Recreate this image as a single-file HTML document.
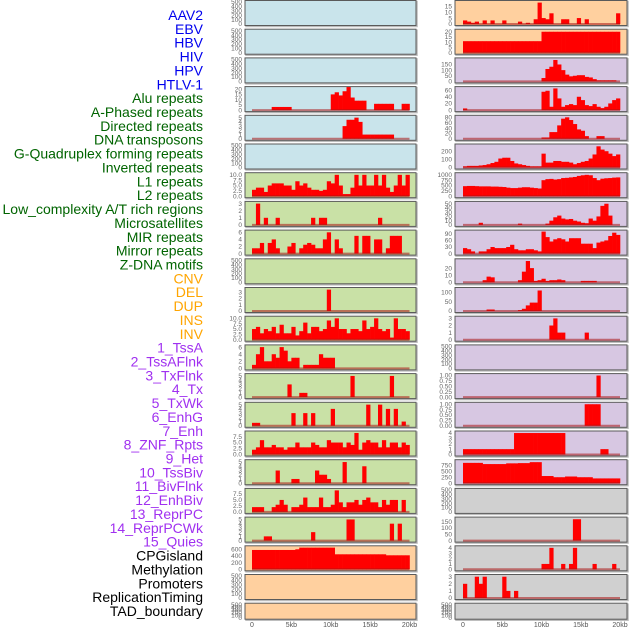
<!DOCTYPE html>
<html><head><meta charset="utf-8"><style>
html,body{margin:0;padding:0;background:#fff;}
svg{display:block;font-family:"Liberation Sans",sans-serif;}
</style></head><body>
<svg id="chart" width="630" height="630" viewBox="0 0 630 630"></svg>
<script>
const labels=["AAV2","EBV","HBV","HIV","HPV","HTLV-1","Alu repeats","A-Phased repeats","Directed repeats","DNA transposons","G-Quadruplex forming repeats","Inverted repeats","L1 repeats","L2 repeats","Low_complexity A/T rich regions","Microsatellites","MIR repeats","Mirror repeats","Z-DNA motifs","CNV","DEL","DUP","INS","INV","1_TssA","2_TssAFlnk","3_TxFlnk","4_Tx","5_TxWk","6_EnhG","7_Enh","8_ZNF_Rpts","9_Het","10_TssBiv","11_BivFlnk","12_EnhBiv","13_ReprPC","14_ReprPCWk","15_Quies","CPGisland","Methylation","Promoters","ReplicationTiming","TAD_boundary"];
const labelGroups=[6,13,5,15,5];
const labelColors=["#0000ee","#006400","#ffa500","#a030f0","#000000"];
const xTickLabels=["0","5kb","10kb","15kb","20kb"];
const xTickKb=[0,5,10,15,20];
const E="0,100,200,300,400,500";
const leftBg=["b","b","b","b","b","b","g","g","g","g","g","g","g","g","g","g","g","g","g","o","o","o"];
const rightBg=["o","o","p","p","p","p","p","p","p","p","p","p","p","p","p","p","p","y","y","y","y","y"];
const leftTicks=[E,E,E,"0,5,10,15,20","0,1,2,3,4,5",E,"0.0,2.5,5.0,7.5,10.0","0,1,2,3","0,2,4,6",E,"0,1,2,3","0.0,2.5,5.0,7.5,10.0","0,2,4,6","0,1,2,3,4,5","0,1,2,3,4,5","0.0,2.5,5.0,7.5","0,1,2,3,4,5","0.0,2.5,5.0,7.5","0,1,2,3,4,5","0,200,400,600",E,E];
const leftMax=[500,500,500,21,5.2,500,10.3,3.1,6.2,500,3.5,10.3,6.2,5.2,5.2,9.2,5.2,9.2,5.2,660,500,500];
const leftVals=[null,null,null,
"0,0,0,0,0,3,3,3,3,3,0,0,0,0,0,0,0,0,0,0,15,17,14,18,22,12,9,9,9,0,0,6,6,6,6,6,0,0,6,6",
"0,0,0,0,0,0,0,0,0,0,0,0,0,0,0,0,0,0,0,0,0,0,0,3,4.5,4.5,5,4,1,1,1,1,1,1,1,1,0,0,0,0",
null,
"3,4,4,2,5,6,6,6,5,5,3,7,5,6,4,3,3,2.5,3,7,6,10,5,1,1,4,10,5,10,5,5,10,5,10,4,2,5,10,5,10",
"0,3,0,1,0,0,1,0,0,0,0,0,0,0,0,1,0,1,1,0,0,0,0,0,0,0,0,0,0,0,0,0,1,0,0,0,0,0,0,0",
"1.5,1.5,3,0,3,4,1.5,0,0,2,3,0,1.5,2.5,3,2.5,1.5,1.5,4,6,0,4,1.5,0,0,0,5,0,5,5,0,4,4,0,1.5,5,5,5,0,0",
null,
"0,0,0,0,0,0,0,0,0,0,0,0,0,0,0,0,0,0,0,3.4,0,0,0,0,0,0,0,0,0,0,0,0,0,0,0,0,0,0,0,0",
"5,6,3,5,4,6,3,7,3,3,6,2,4,8,3,6,6,4,5,9,6,10,5,5,3,5,5,4,9,5,6,10,5,4,5,1,10,5,5,4",
"1,4,6,2,2,4,3,6,5,2,3,3,0,1,1,1,1,4,3,3,3,0,0,0,0,0,0,0,0,0,0,0,0,0,0,0,0,0,0,0",
"0,0,0,0,0,0,0,0,0,3,0,0,1,1,0,0,0,0,0,0,0,0,0,0,0,5,0,0,0,0,0,0,0,0,0,5,0,0,0,0",
"0.7,0.7,0,0,0,0,0,0,0,0,3,0,0,3,0,3,0,0,0,0,4,0,0,0,0,0,0,0,0,5,0,0,5,0,4,0,4,0,1,0",
"2,3,6,3,3,4,3,3,2,3,3,5,3,3,3,5,4,3,3,6,5,5,5,3,5,4,9,2,5,6,5,5,3,6,3,5,5,3,5,4",
"0,0,0,0,0,0,3,0,0,0,1,1,0,0,0,0,3,2,2,1,0,0,0,5,0,0,0,0,4,0,0,0,0,0,0,0,0,0,0,0",
"2,2,2,0,0,2,3,5,3,0,2,2,3,6,2,2,2,6,2,2,3,9,4,2,4,4,5,3,5,6,4,4,2,5,3,5,5,0,5,0",
"0,0,0,1,1,0,0,0,0,0,0,0,0,0,0,2,0,0,0,0,0,0,0,0,5,5,0,0,0,0,0,0,0,0,0,4,0,4,0,0",
"580,580,580,580,580,580,580,580,580,580,580,600,650,650,650,650,650,650,650,650,650,450,450,450,450,450,450,450,450,450,450,450,450,450,420,420,420,420,420,420",
null,null];
const rightTicks=["0,5,10,15","0,5,10,15,20","0,50,100,150","0,20,40,60","0,20,40,60,80","0,100,200","0,250,500,750,1000","0,10,20,30,40,50","0,30,60,90","0,10,20","0,50,100","0,1,2,3",E,"0.00,0.25,0.50,0.75,1.00","0.00,0.25,0.50,0.75,1.00","0,1,2,3,4","0,250,500,750",E,"0,50,100,150","0,1,2,3,4","0,1,2,3",E];
const rightMax=[18.5,21,195,66,82,270,1030,52,100,31,118,3.1,500,1.02,1.02,4.1,920,500,175,4.1,3.1,500];
const rightVals=[
"3,2,1,2,0,3,0,3,0,0,3,0,0,0,2,0,1,0,4,18,5,4,9,0,0,4,4,0,0,5,0,4,0,0,0,0,0,0,0,9",
"11,11,11,11,11,11,11,11,11,11,11,11,11,11,11,11,11,11,11,11,20,20,20,20,20,20,20,20,20,20,20,20,20,20,20,20,20,20,20,20",
"0,0,0,0,0,0,0,0,0,0,0,0,0,0,0,0,0,0,0,0,30,110,130,190,150,100,60,45,50,55,55,40,35,20,10,10,10,10,10,0",
"5,0,0,0,0,0,0,0,0,0,0,0,0,0,0,0,0,0,0,0,55,58,10,65,35,10,15,18,15,40,30,15,12,18,10,6,10,20,30,35",
"0,0,0,0,0,0,0,0,0,0,0,0,0,0,0,0,0,0,0,0,5,5,25,25,50,75,80,70,55,35,30,10,0,0,10,10,0,0,0,0",
"15,20,20,20,25,30,40,55,70,110,120,120,80,50,40,30,20,15,15,15,170,60,60,80,80,70,70,60,40,55,70,80,110,160,260,220,200,170,140,160",
"470,480,480,470,460,460,460,450,450,440,430,400,380,380,400,420,420,400,380,360,750,800,810,780,800,850,860,880,900,950,980,1000,980,850,750,820,840,850,870,880",
"0,0,0,0,5,0,0,0,0,0,0,0,0,0,3,0,0,0,0,0,0,3,10,18,22,15,13,14,10,8,5,4,15,10,20,45,50,22,0,0",
"25,20,10,0,10,10,20,30,25,25,25,30,40,20,15,15,20,20,15,10,100,75,55,65,70,65,55,70,70,70,45,45,45,25,50,55,60,80,95,85",
"0,0,0,0,0,3,8,7,0,0,0,0,0,0,3,15,30,20,2,3,5,2,3,3,4,3,0,0,0,0,2,2,2,2,0,0,0,0,0,0",
"0,0,0,0,0,0,8,8,0,0,0,0,0,0,5,12,30,45,45,110,0,0,0,0,0,0,0,0,0,0,0,0,0,0,0,0,0,0,0,0",
"0,0,0,0,0,0,0,0,0,0,0,0,0,0,0,0,0,0,0,0,0,0,2,3,1,1,0,0,0,0,0,1,0,0,0,0,0,0,0,0",
null,
"0,0,0,0,0,0,0,0,0,0,0,0,0,0,0,0,0,0,0,0,0,0,0,0,0,0,0,0,0,0,0,0,0,0,1,0,0,0,0,0",
"0,0,0,0,0,0,0,0,0,0,0,0,0,0,0,0,0,0,0,0,0,0,0,0,0,0,0,0,0,0,0,1,1,1,1,0,0,0,0,0",
"1,1,1,1,1,1,1,1,1,1,1,1,1,4,4,4,4,4,4,4,4,4,4,4,4,4,0,0,0,0,0,0,0,0,0,1,1,0,0,0",
"850,850,850,850,850,800,800,800,800,800,800,830,830,830,840,840,840,880,880,880,300,300,300,250,250,250,280,280,280,250,250,250,250,200,200,200,200,200,200,200",
null,
"0,0,0,0,0,0,0,0,0,0,0,0,0,0,0,0,0,0,0,0,0,0,0,0,0,0,0,0,170,170,0,0,0,0,0,0,0,0,0,0",
"0,0,0,0,0,0,0,0,0,0,0,0,0,0,0,0,0,0,0,0,1,1,4,0,0,1,0,1,4,0,0,0,0,1,0,0,0,0,1,0",
"2,0,0,3,2,3,0,0,0,0,3,1,0,1,0,0,0,0,0,0,0,0,0,0,0,0,0,0,0,0,0,0,0,0,0,0,0,0,0,0",
null];
const bgColors={b:"#c9e4eb",g:"#c9e1a6",o:"#ffd09f",p:"#d7c7e2",y:"#d0d0d0"};

const NS="http://www.w3.org/2000/svg";
const svg=document.getElementById('chart');
function mk(tag,attrs,parent){const e=document.createElementNS(NS,tag);for(const k in attrs)e.setAttribute(k,attrs[k]);(parent||svg).appendChild(e);return e;}

// left labels
let idx=0;
labelGroups.forEach((n,g)=>{for(let i=0;i<n;i++){
  const t=mk('text',{x:203,y:15+idx*13.86+5,'text-anchor':'end','font-size':'14',fill:labelColors[g]});
  
  
  t.textContent=labels[idx];idx++;}});

const cols=[{px:245,pw:171,x0:252,x1:409.5,bg:leftBg,ticks:leftTicks,max:leftMax,vals:leftVals,name:'left'},
            {px:455,pw:172,x0:463,x1:620,bg:rightBg,ticks:rightTicks,max:rightMax,vals:rightVals,name:'right'}];
const pitch=28.7, nBins=40;
cols.forEach(c=>{
  const xs=kb=>c.x0+(c.x1-c.x0)*kb/20;
  for(let r=0;r<22;r++){
    const top=0.5+r*pitch, h=(r===21)?16:25, bot=top+h;
    const g=mk('g',{});
    
    
    mk('rect',{x:c.px+1,y:top+1,width:c.pw,height:h,fill:'none',stroke:'#bbb','stroke-width':1.5},g);
    mk('rect',{x:c.px,y:top,width:c.pw,height:h,fill:bgColors[c.bg[r]],stroke:'#5a5a5a','stroke-width':1},g);
    const ymax=c.max[r];
    const ys=v=>bot-1.5-(v/ymax)*(h-3);
    c.ticks[r].split(',').forEach(tl=>{
      const t=mk('text',{x:c.px-3,y:ys(parseFloat(tl))+2.2,'text-anchor':'end','font-size':'6.5',fill:'#666'},g);
      
      
      t.textContent=tl;});
    if(c.vals[r]){
      const vals=c.vals[r].split(',').map(Number);
      vals.forEach((v,i)=>{ if(v<=0)return;
        const xa=xs(i*20/nBins), xb=xs((i+1)*20/nBins);
        const b=mk('rect',{x:xa,y:ys(v),width:xb-xa+0.3,height:ys(0)-ys(v),fill:'#ff0000'},g);
        
        });
      const bl=mk('line',{x1:xs(0),x2:xs(20),y1:ys(0),y2:ys(0),stroke:'rgba(170,20,20,0.55)','stroke-width':2},g);
      
      
    }
  }
  xTickLabels.forEach((l,i)=>{
    const t=mk('text',{x:xs(xTickKb[i]),y:627,'text-anchor':'middle','font-size':'7',fill:'#555'});
    
    
    t.textContent=l;});
});
</script>
</body></html>
